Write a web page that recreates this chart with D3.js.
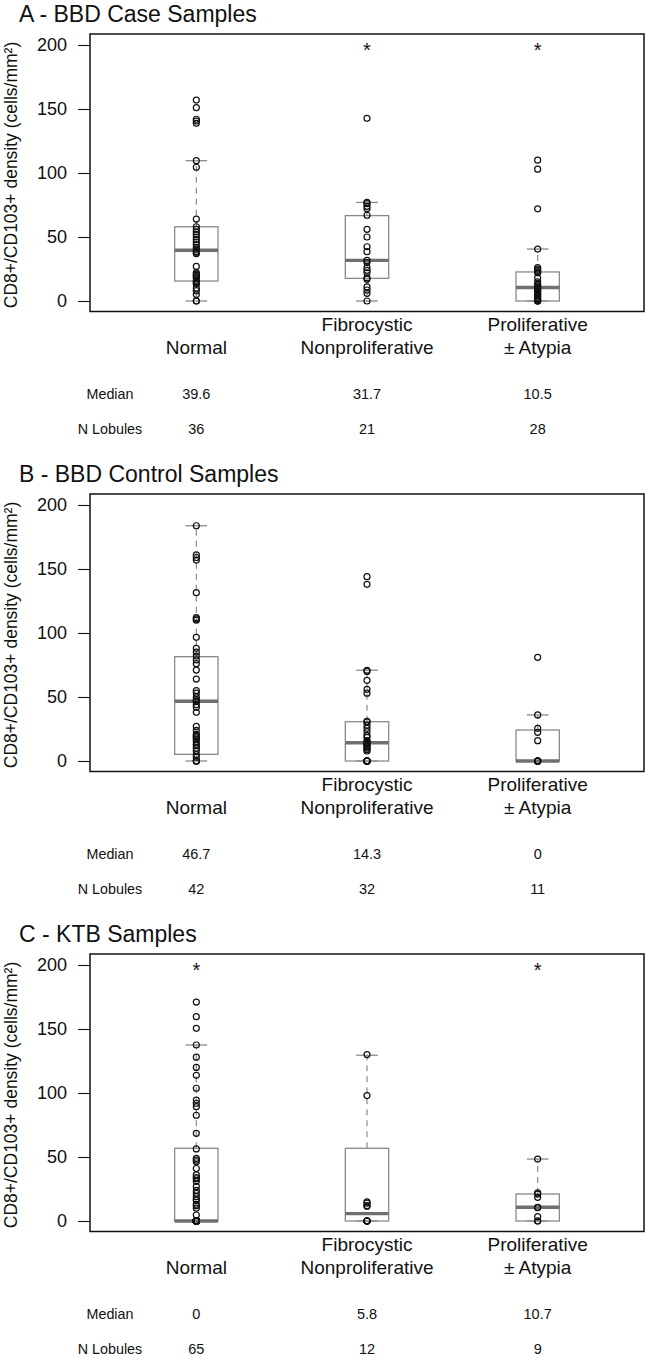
<!DOCTYPE html>
<html>
<head>
<meta charset="utf-8">
<script src="https://cdn.jsdelivr.net/npm/d3@7"></script>
<style>
  body { margin: 0; background: #fff; }
  text { font-family: "Liberation Sans", Arial, sans-serif; fill: #111; }
</style>
</head>
<body>
<svg id="chart" width="646" height="1356"></svg>
<script>
// Categories and labels
var categories = ['Normal', 'Fibrocystic', 'Proliferative'];
var labelLine1 = ['', 'Fibrocystic', 'Proliferative'];
var labelLine2 = ['Normal', 'Nonproliferative', '\u00b1 Atypia'];
var yTicks = [0, 50, 100, 150, 200];
var panelTitles = ['A - BBD Case Samples', 'B - BBD Control Samples', 'C - KTB Samples'];

// Box stats per category: [lower whisker, q1, median, q3, upper whisker]
var caseStats = [[0, 15.6, 39.6, 58, 109.6], [0, 17.7, 31.7, 66.7, 77], [0, 0, 10.5, 22.7, 40.6]];
var controlStats = [[0, 5.2, 46.7, 81.5, 183.8], [0, 0, 14.3, 30.7, 70.9], [0, 0, 0, 24.2, 36]];
var ktbStats = [[0, 0, 0, 56.8, 137.5], [0, 0, 5.8, 56.8, 129.5], [0, 0, 10.7, 21.1, 48.4]];

// Lobule densities
var caseNormal = [157, 151, 142, 140.6, 138.8, 109.6, 104.5, 64, 58, 56, 54, 52, 50, 48, 46, 44, 42, 40.5,
  38.7, 38, 37, 27, 22, 21, 20, 19, 18, 16, 15, 14, 13, 10, 8, 5, 0, 0];
var caseFibro = [142.7, 77, 76, 74, 72, 67, 56, 50, 42.4, 38.5, 31.7, 30, 26, 24, 22, 18, 17, 11, 8.6, 6, 0];
var caseProlif = [110, 103, 72, 40.6, 26, 25, 24, 22.7, 22, 18, 15, 13, 12, 11,
  10, 9.5, 9, 8, 7, 6, 5, 4, 3, 2, 1, 0, 0, 0];

var controlNormal = [183.8, 161, 159, 157, 131.5, 112, 111, 110, 96.6, 88, 85, 82, 79, 76, 71, 64, 55, 53, 50, 48, 47,
  46.4, 44, 42, 38, 27, 24, 21, 20, 19, 18, 17, 15, 13, 12, 10, 8, 5, 3, 0, 0, 0];
var controlFibro = [144, 138, 70.9, 70, 63, 56, 53, 31, 30.5, 28, 25.5, 23, 20, 18.5, 16, 14.6,
  14, 13, 12, 11, 10, 9, 7.8, 0, 0, 0, 0, 0, 0, 0, 0, 0];
var controlProlif = [81, 36, 25.5, 22.4, 15.9, 0, 0, 0, 0, 0, 0];

var ktbNormal = [171, 159.6, 150.5, 137.5, 128, 120, 113.8, 103.7, 94.5, 92, 89.3, 82.6, 68.5, 56.3, 49, 47.6,
  46.3, 41, 36, 34, 33, 31, 27, 24, 21.6, 19, 17, 16, 13, 12, 10, 4.7,
  0, 0, 0, 0, 0, 0, 0, 0, 0, 0, 0, 0, 0, 0, 0, 0, 0, 0, 0, 0, 0, 0, 0, 0, 0, 0, 0, 0, 0, 0, 0, 0, 0];
var ktbFibro = [130, 98, 15, 14, 12, 11.6, 0, 0, 0, 0, 0, 0];
var ktbProlif = [48.4, 22, 21, 18.5, 10.7, 10.4, 3.4, 0, 0];

// Table rows and significance marks
var caseMedians = ['39.6', '31.7', '10.5'];
var caseN = ['36', '21', '28'];
var controlMedians = ['46.7', '14.3', '0'];
var controlN = ['42', '32', '11'];
var ktbMedians = ['0', '5.8', '10.7'];
var ktbN = ['65', '12', '9'];
var caseStars = [false, true, true];
var controlStars = [false, false, false];
var ktbStars = [true, false, true];

var panels = [
  {title: panelTitles[0], stats: caseStats, points: [caseNormal, caseFibro, caseProlif], medians: caseMedians, n: caseN, stars: caseStars},
  {title: panelTitles[1], stats: controlStats, points: [controlNormal, controlFibro, controlProlif], medians: controlMedians, n: controlN, stars: controlStars},
  {title: panelTitles[2], stats: ktbStats, points: [ktbNormal, ktbFibro, ktbProlif], medians: ktbMedians, n: ktbN, stars: ktbStars}
];

var svg = d3.select('#chart');
var panelStep = 460;
var boxCol = '#8a8a8a', medCol = '#6f6f6f';

var x = d3.scalePoint().domain(categories).range([90, 644]).padding(0.623);
var halfBox = x.step() * 0.127;

panels.forEach(function(p, i) {
  var off = i * panelStep;
  var y = d3.scaleLinear().domain([0, 200]).range([301 + off, 45 + off]);
  var g = svg.append('g');

  // title
  g.append('text').attr('x', 19).attr('y', 21.5 + off)
    .attr('font-size', 23).text(p.title);

  // y axis
  var axis = g.append('g').attr('transform', 'translate(90,0)')
    .call(d3.axisLeft(y).tickValues(yTicks).tickSize(12).tickPadding(11).tickFormat(d3.format('d')));
  axis.select('.domain').remove();
  axis.selectAll('line').attr('stroke', '#111').attr('stroke-width', 1.1);
  axis.selectAll('text').attr('font-size', 18).attr('font-family', '"Liberation Sans", Arial, sans-serif').attr('fill', '#111');

  g.append('text')
    .attr('transform', 'translate(16.5,' + (175 + off) + ') rotate(-90)')
    .attr('text-anchor', 'middle').attr('font-size', 17.5)
    .text('CD8+/CD103+ density (cells/mm\u00b2)');

  // boxes
  categories.forEach(function(c, j) {
    var s = p.stats[j], cx = x(c);
    g.append('line').attr('x1', cx).attr('x2', cx).attr('y1', y(s[3])).attr('y2', y(s[4]))
      .attr('stroke', boxCol).attr('stroke-width', 1.2).attr('stroke-dasharray', '6,5');
    g.append('line').attr('x1', cx).attr('x2', cx).attr('y1', y(s[1])).attr('y2', y(s[0]))
      .attr('stroke', boxCol).attr('stroke-width', 1.2).attr('stroke-dasharray', '6,5');
    [s[0], s[4]].forEach(function(v) {
      g.append('line').attr('x1', cx - halfBox / 2).attr('x2', cx + halfBox / 2)
        .attr('y1', y(v)).attr('y2', y(v)).attr('stroke', boxCol).attr('stroke-width', 1.3);
    });
    g.append('rect').attr('x', cx - halfBox).attr('width', halfBox * 2)
      .attr('y', y(s[3])).attr('height', y(s[1]) - y(s[3]))
      .attr('fill', 'none').attr('stroke', boxCol).attr('stroke-width', 1.3);
    g.append('line').attr('x1', cx - halfBox).attr('x2', cx + halfBox)
      .attr('y1', y(s[2])).attr('y2', y(s[2])).attr('stroke', medCol).attr('stroke-width', 3.4);

    // points
    g.selectAll(null).data(p.points[j]).enter().append('circle')
      .attr('cx', cx).attr('cy', function(d) { return y(d); }).attr('r', 3)
      .attr('fill', 'none').attr('stroke', '#111').attr('stroke-width', 1.2);

    if (p.stars[j]) {
      g.append('text').attr('x', cx).attr('y', y(200) + 11.5)
        .attr('text-anchor', 'middle').attr('font-size', 20).text('*');
    }

    // category labels
    g.append('text').attr('x', cx).attr('y', y(0) + 30).attr('text-anchor', 'middle')
      .attr('font-size', 19).text(labelLine1[j]);
    g.append('text').attr('x', cx).attr('y', y(0) + 52.5).attr('text-anchor', 'middle')
      .attr('font-size', 19).text(labelLine2[j]);

    // table values
    g.append('text').attr('x', cx).attr('y', y(0) + 98).attr('text-anchor', 'middle')
      .attr('font-size', 14.5).text(p.medians[j]);
    g.append('text').attr('x', cx).attr('y', y(0) + 132.5).attr('text-anchor', 'middle')
      .attr('font-size', 14.5).text(p.n[j]);
  });

  g.append('text').attr('x', 110).attr('y', y(0) + 98).attr('text-anchor', 'middle')
    .attr('font-size', 14.3).text('Median');
  g.append('text').attr('x', 110).attr('y', y(0) + 132.5).attr('text-anchor', 'middle')
    .attr('font-size', 14.3).text('N Lobules');

  // frame
  g.append('rect').attr('x', 90).attr('y', y(208.6)).attr('width', 554).attr('height', y(-8.2) - y(208.6))
    .attr('fill', 'none').attr('stroke', '#111').attr('stroke-width', 1.5);
});
</script>
</body>
</html>
